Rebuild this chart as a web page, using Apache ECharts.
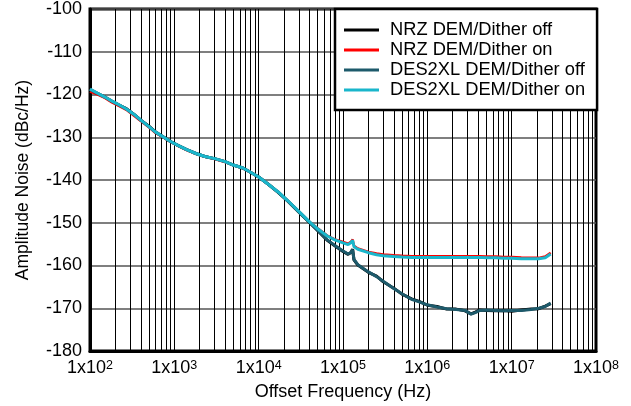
<!DOCTYPE html>
<html>
<head>
<meta charset="utf-8">
<script src="https://cdn.jsdelivr.net/npm/echarts@6/dist/echarts.min.js"></script>
<style>
  html, body { margin: 0; padding: 0; background: #fff; }
  #chart { width: 631px; height: 406px; }
</style>
</head>
<body>
<div id="chart"></div>
<script>
// Offset frequency points (Hz)
var freqHz = [
  100, 120, 150, 180, 220, 270, 330, 400, 500, 600,
  750, 900, 1100, 1400, 1800, 2300, 3000, 4000, 5000, 6500,
  8000, 10000, 13000, 17000, 22000, 30000, 40000, 50000, 65000, 80000,
  100000, 115000, 125000, 130000, 135000, 150000, 200000, 250000, 300000, 400000,
  500000, 650000, 800000, 1e6, 1.3e6, 1.7e6, 2.2e6, 2.8e6, 3.3e6, 3.7e6,
  4.2e6, 5e6, 6.5e6, 8e6, 1e7, 1.3e7, 1.7e7, 2.1e7, 2.5e7, 2.9e7
];

// Amplitude noise (dBc/Hz) for each configuration
var nrzOff = [
  -118.9, -119.7, -120.6, -121.6, -122.5, -123.3, -124.6, -126.0, -127.4, -128.8,
  -130.0, -131.0, -131.9, -132.9, -133.8, -134.5, -135.0, -135.7, -136.5, -137.2,
  -138.2, -139.3, -141.0, -142.9, -144.9, -147.5, -149.9, -151.8, -154.1, -155.4,
  -156.7, -157.4, -156.9, -156.2, -158.7, -159.9, -161.6, -162.5, -163.8, -165.3,
  -166.7, -167.8, -168.4, -169.3, -169.6, -170.2, -170.2, -170.6, -171.3, -170.9,
  -170.4, -170.5, -170.6, -170.5, -170.7, -170.4, -170.2, -170.1, -169.5, -168.9
];
var nrzOn = [
  -119.3, -119.9, -120.8, -121.8, -122.7, -123.6, -124.9, -126.2, -127.7, -129.0,
  -130.1, -131.1, -132.0, -133.0, -133.9, -134.6, -135.1, -135.8, -136.5, -137.3,
  -138.2, -139.3, -141.0, -142.8, -144.8, -147.4, -149.8, -151.3, -153.0, -153.9,
  -154.5, -154.9, -154.4, -153.9, -155.4, -156.0, -156.8, -157.2, -157.4, -157.6,
  -157.7, -157.8, -157.8, -157.8, -157.8, -157.8, -157.8, -157.8, -157.8, -157.8,
  -157.8, -157.9, -157.9, -158.0, -158.0, -158.1, -158.2, -158.2, -157.9, -157.0
];
var des2xlOff = [
  -118.8, -119.6, -120.6, -121.5, -122.4, -123.4, -124.6, -126.0, -127.5, -128.8,
  -130.0, -131.0, -131.9, -132.9, -133.8, -134.5, -135.0, -135.7, -136.5, -137.2,
  -138.2, -139.3, -141.0, -142.8, -144.8, -147.4, -149.8, -151.8, -154.0, -155.3,
  -156.6, -157.3, -156.9, -156.3, -158.6, -159.8, -161.5, -162.6, -163.7, -165.4,
  -166.6, -167.9, -168.5, -169.2, -169.7, -170.1, -170.3, -170.5, -171.4, -171.0,
  -170.5, -170.4, -170.5, -170.6, -170.5, -170.5, -170.3, -170.0, -169.6, -168.8
];
var des2xlOn = [
  -118.7, -119.6, -120.6, -121.5, -122.4, -123.4, -124.6, -126.0, -127.5, -128.8,
  -130.0, -131.0, -131.9, -132.9, -133.8, -134.5, -135.0, -135.7, -136.5, -137.2,
  -138.2, -139.3, -141.0, -142.8, -144.8, -147.4, -149.8, -151.4, -153.1, -154.0,
  -154.7, -155.1, -154.6, -154.1, -155.6, -156.2, -157.0, -157.5, -157.7, -157.9,
  -158.0, -158.1, -158.1, -158.1, -158.1, -158.1, -158.1, -158.1, -158.1, -158.1,
  -158.1, -158.2, -158.2, -158.3, -158.3, -158.4, -158.4, -158.4, -158.2, -157.3
];

var seriesNames = [
  'NRZ DEM/Dither off',
  'NRZ DEM/Dither on',
  'DES2XL DEM/Dither off',
  'DES2XL DEM/Dither on'
];
var seriesColors = ['#000000', '#ff0000', '#1d5a6b', '#1ab6cb'];
var seriesWidths = [3, 2.4, 3, 3];
var seriesValues = [nrzOff, nrzOn, des2xlOff, des2xlOn];

// Decade axis range and amplitude ticks
var xMin = 100, xMax = 1e8;
var yMin = -180, yMax = -100, yStep = 10;

function pairs(values) {
  return freqHz.map(function (f, i) { return [f, values[i]]; });
}

// Intermediate log grid lines (2..9 within every decade)
var minorLines = [];
for (var d = 2; d < 8; d++) {
  for (var k = 2; k <= 9; k++) {
    minorLines.push({ xAxis: k * Math.pow(10, d) });
  }
}

var FONT = 'Liberation Sans, Arial, Helvetica, sans-serif';

var series = [{
  type: 'line',
  data: [],
  silent: true,
  z: 1,
  markLine: {
    silent: true,
    z: 1,
    symbol: ['none', 'none'],
    label: { show: false },
    lineStyle: { color: '#000', width: 1, type: 'solid' },
    emphasis: { disabled: true },
    animation: false,
    data: minorLines
  }
}];

seriesNames.forEach(function (name, i) {
  series.push({
    name: name,
    type: 'line',
    data: pairs(seriesValues[i]),
    showSymbol: false,
    symbol: 'none',
    smooth: false,
    color: seriesColors[i],
    lineStyle: { color: seriesColors[i], width: seriesWidths[i] },
    z: 2 + i
  });
});

var chart = echarts.init(document.getElementById('chart'), null, { renderer: 'canvas' });
chart.setOption({
  animation: false,
  backgroundColor: '#ffffff',
  textStyle: { fontFamily: FONT, color: '#000' },
  grid: {
    left: 90, right: 35, top: 9, bottom: 53,
    show: true,
    borderColor: '#000',
    borderWidth: 3,
    backgroundColor: 'transparent'
  },
  legend: {
    data: seriesNames,
    orient: 'vertical',
    left: 335,
    top: 9,
    padding: [11, 12, 10, 9],
    itemGap: 0,
    itemWidth: 35,
    itemHeight: 3,
    icon: 'rect',
    backgroundColor: '#ffffff',
    borderColor: '#000',
    borderWidth: 2.5,
    borderRadius: 0,
    z: 10,
    textStyle: {
      fontFamily: FONT,
      fontSize: 18.3,
      lineHeight: 20,
      color: '#000',
      padding: [0, 0, 0, 6]
    }
  },
  xAxis: {
    type: 'log',
    logBase: 10,
    min: xMin,
    max: xMax,
    name: 'Offset Frequency (Hz)',
    nameLocation: 'middle',
    nameGap: 32,
    nameTextStyle: { fontFamily: FONT, fontSize: 18, color: '#000' },
    axisLine: { show: true, lineStyle: { color: '#000', width: 3 } },
    axisTick: { show: false },
    splitLine: { show: true, lineStyle: { color: '#000', width: 1 } },
    axisLabel: {
      margin: 8,
      fontFamily: FONT,
      fontSize: 18,
      color: '#000',
      formatter: function (v) {
        return '1x10{s|' + Math.round(Math.log10(v)) + '}';
      },
      rich: {
        s: { fontFamily: FONT, fontSize: 12.5, color: '#000', verticalAlign: 'top', padding: [0, 0, 6, 0] }
      }
    }
  },
  yAxis: {
    type: 'value',
    min: yMin,
    max: yMax,
    interval: yStep,
    name: 'Amplitude Noise (dBc/Hz)',
    nameLocation: 'middle',
    nameGap: 58,
    nameTextStyle: { fontFamily: FONT, fontSize: 17.5, color: '#000' },
    axisLine: { show: true, lineStyle: { color: '#000', width: 3 } },
    axisTick: { show: false },
    splitLine: { show: true, lineStyle: { color: '#555', width: 1.5 } },
    axisLabel: { margin: 8, fontFamily: FONT, fontSize: 18, color: '#000' }
  },
  series: series
});
</script>
</body>
</html>
